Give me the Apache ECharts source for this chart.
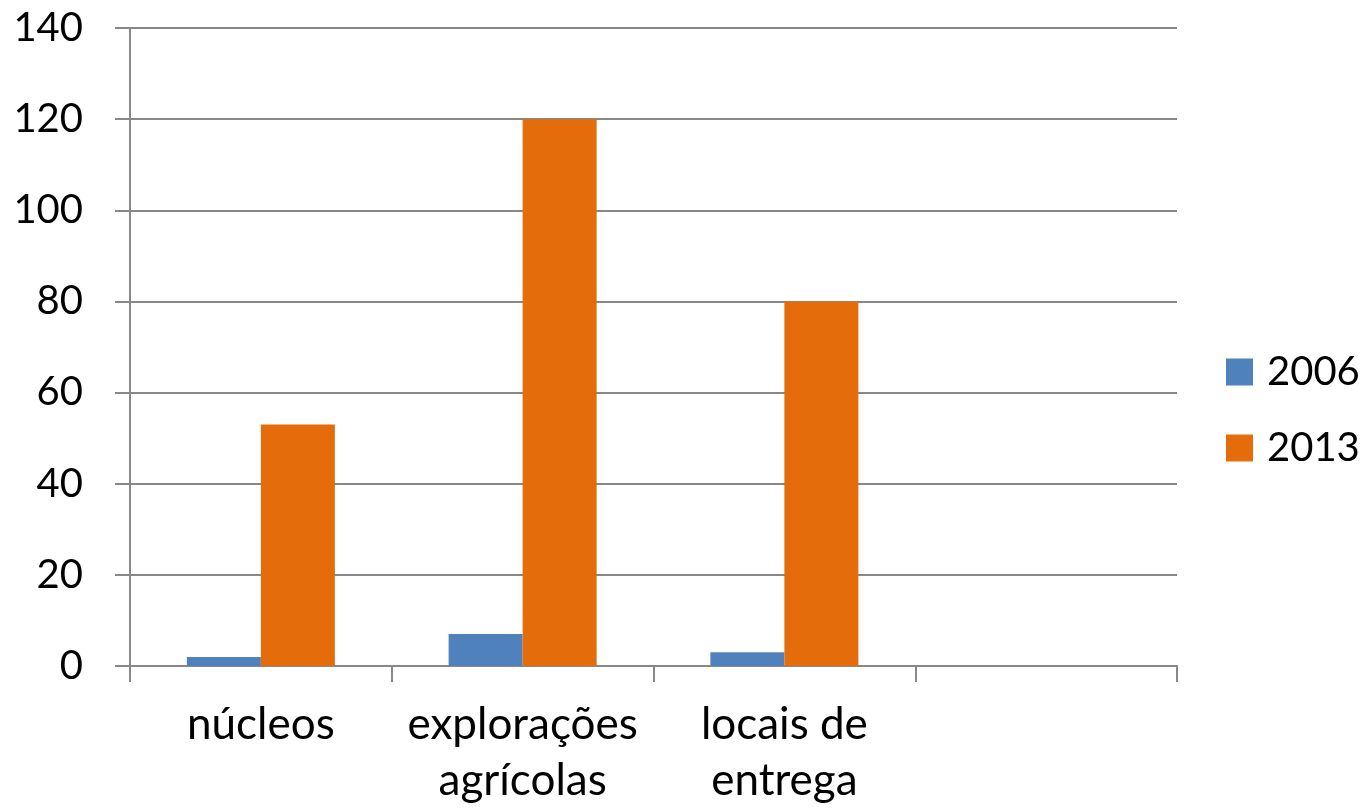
<!DOCTYPE html>
<html><head><meta charset="utf-8">
<script src="https://cdn.jsdelivr.net/npm/echarts@6/dist/echarts.min.js"></script>
<style>html,body{margin:0;padding:0;background:#fff}#c{width:1364px;height:809px}</style>
</head><body><div id="c"></div>
<script>
const categories = ['núcleos', 'explorações\nagrícolas', 'locais de\nentrega', ''];
const series2006 = [2, 7, 3, null];
const series2013 = [53, 120, 80, null];
const yTicks = { min: 0, max: 140, interval: 20 };

const chart = echarts.init(document.getElementById('c'));
const font = 'Lato, "Open Sans", sans-serif';
chart.setOption({
  animation: false,
  grid: { left: 130, right: 187, top: 28, bottom: 142 },
  legend: {
    orient: 'vertical', left: 1226, top: 352, padding: 0,
    itemWidth: 27, itemHeight: 27, itemGap: 36,
    icon: 'rect',
    textStyle: { fontFamily: font, fontSize: 40, color: '#000', padding: [0, 0, 0, 9] },
    data: ['2006', '2013']
  },
  xAxis: {
    type: 'category', data: categories,
    axisLine: { lineStyle: { color: '#888', width: 2 } },
    axisTick: { show: true, length: 16, lineStyle: { color: '#888', width: 2 } },
    axisLabel: { fontFamily: font, fontSize: 44, color: '#000', margin: 31, lineHeight: 56, interval: 0 }
  },
  yAxis: {
    type: 'value', min: yTicks.min, max: yTicks.max, interval: yTicks.interval,
    axisLine: { show: true, lineStyle: { color: '#888', width: 2 } },
    axisTick: { show: true, length: 15, lineStyle: { color: '#888', width: 2 } },
    splitLine: { lineStyle: { color: '#888', width: 2 } },
    axisLabel: { fontFamily: font, fontSize: 40, color: '#000', margin: 47 }
  },
  series: [
    { name: '2006', type: 'bar', data: series2006, barWidth: 74, barGap: '0%', itemStyle: { color: '#4F81BD' } },
    { name: '2013', type: 'bar', data: series2013, barWidth: 74, barGap: '0%', itemStyle: { color: '#E46C0A' } }
  ]
});
</script></body></html>
